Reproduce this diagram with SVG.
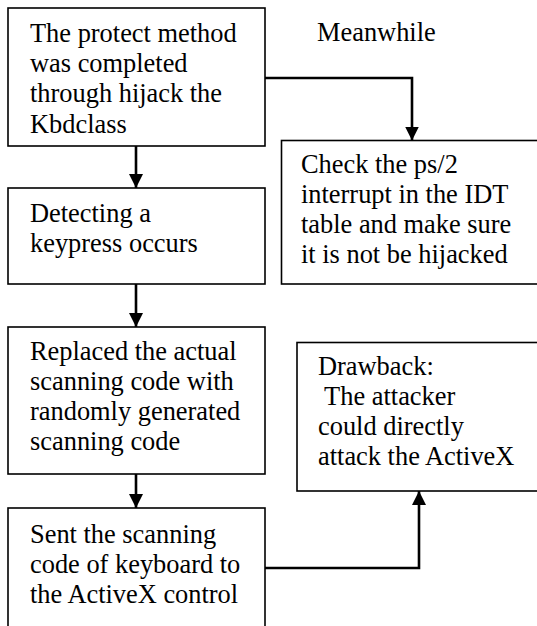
<svg xmlns="http://www.w3.org/2000/svg" width="537" height="626" viewBox="0 0 537 626">
<style>
  .box { fill: #fff; stroke: #000; stroke-width: 1.6; }
  .t { font-family: "Liberation Serif", "Times New Roman", serif; font-size: 26.4px; fill: #000; }
  .c { fill: none; stroke: #000; stroke-width: 2.6; }
</style>
<defs>
  <marker id="ah" markerWidth="14" markerHeight="14" refX="14" refY="7" orient="auto" markerUnits="userSpaceOnUse">
    <path d="M0,0 L14,7 L0,14 Z" fill="#000"/>
  </marker>
</defs>
<rect width="537" height="626" fill="#fff"/>
<g id="connectors">
  <line class="c" x1="136" y1="146" x2="136" y2="188" marker-end="url(#ah)"/>
  <line class="c" x1="136" y1="284" x2="136" y2="327" marker-end="url(#ah)"/>
  <line class="c" x1="136" y1="474" x2="136" y2="508" marker-end="url(#ah)"/>
  <polyline class="c" points="265,78 412,78 412,140.5" marker-end="url(#ah)"/>
  <polyline class="c" points="265,568 419,568 419,491" marker-end="url(#ah)"/>
</g>
<g id="n1">
  <rect class="box" x="8" y="8" width="257" height="138"/>
  <text class="t" x="30" y="42">The protect method</text>
  <text class="t" x="30" y="72">was completed</text>
  <text class="t" x="30" y="102">through hijack the</text>
  <text class="t" x="30" y="133">Kbdclass</text>
</g>
<g id="meanwhile">
  <text class="t" x="317" y="41">Meanwhile</text>
</g>
<g id="n2">
  <rect class="box" x="8" y="188" width="257" height="96"/>
  <text class="t" x="30" y="222">Detecting a</text>
  <text class="t" x="30" y="252">keypress occurs</text>
</g>
<g id="n3">
  <rect class="box" x="8" y="327" width="257" height="147"/>
  <text class="t" x="30" y="360">Replaced the actual</text>
  <text class="t" x="30" y="390">scanning code with</text>
  <text class="t" x="30" y="420">randomly generated</text>
  <text class="t" x="30" y="450">scanning code</text>
</g>
<g id="n4">
  <rect class="box" x="8" y="508" width="257" height="130"/>
  <text class="t" x="30" y="543">Sent the scanning</text>
  <text class="t" x="30" y="573">code of keyboard to</text>
  <text class="t" x="30" y="603">the ActiveX control</text>
</g>
<g id="n5">
  <rect class="box" x="281.5" y="140.5" width="270" height="143.5"/>
  <text class="t" x="301" y="173">Check the ps/2</text>
  <text class="t" x="301" y="203">interrupt in the IDT</text>
  <text class="t" x="301" y="233">table and make sure</text>
  <text class="t" x="301" y="263">it is not be hijacked</text>
</g>
<g id="n6">
  <rect class="box" x="297" y="342.5" width="260" height="148.5"/>
  <text class="t" x="318" y="375">Drawback:</text>
  <text class="t" x="318" y="405" xml:space="preserve"> The attacker</text>
  <text class="t" x="318" y="435">could directly</text>
  <text class="t" x="318" y="465">attack the ActiveX</text>
</g>
</svg>
